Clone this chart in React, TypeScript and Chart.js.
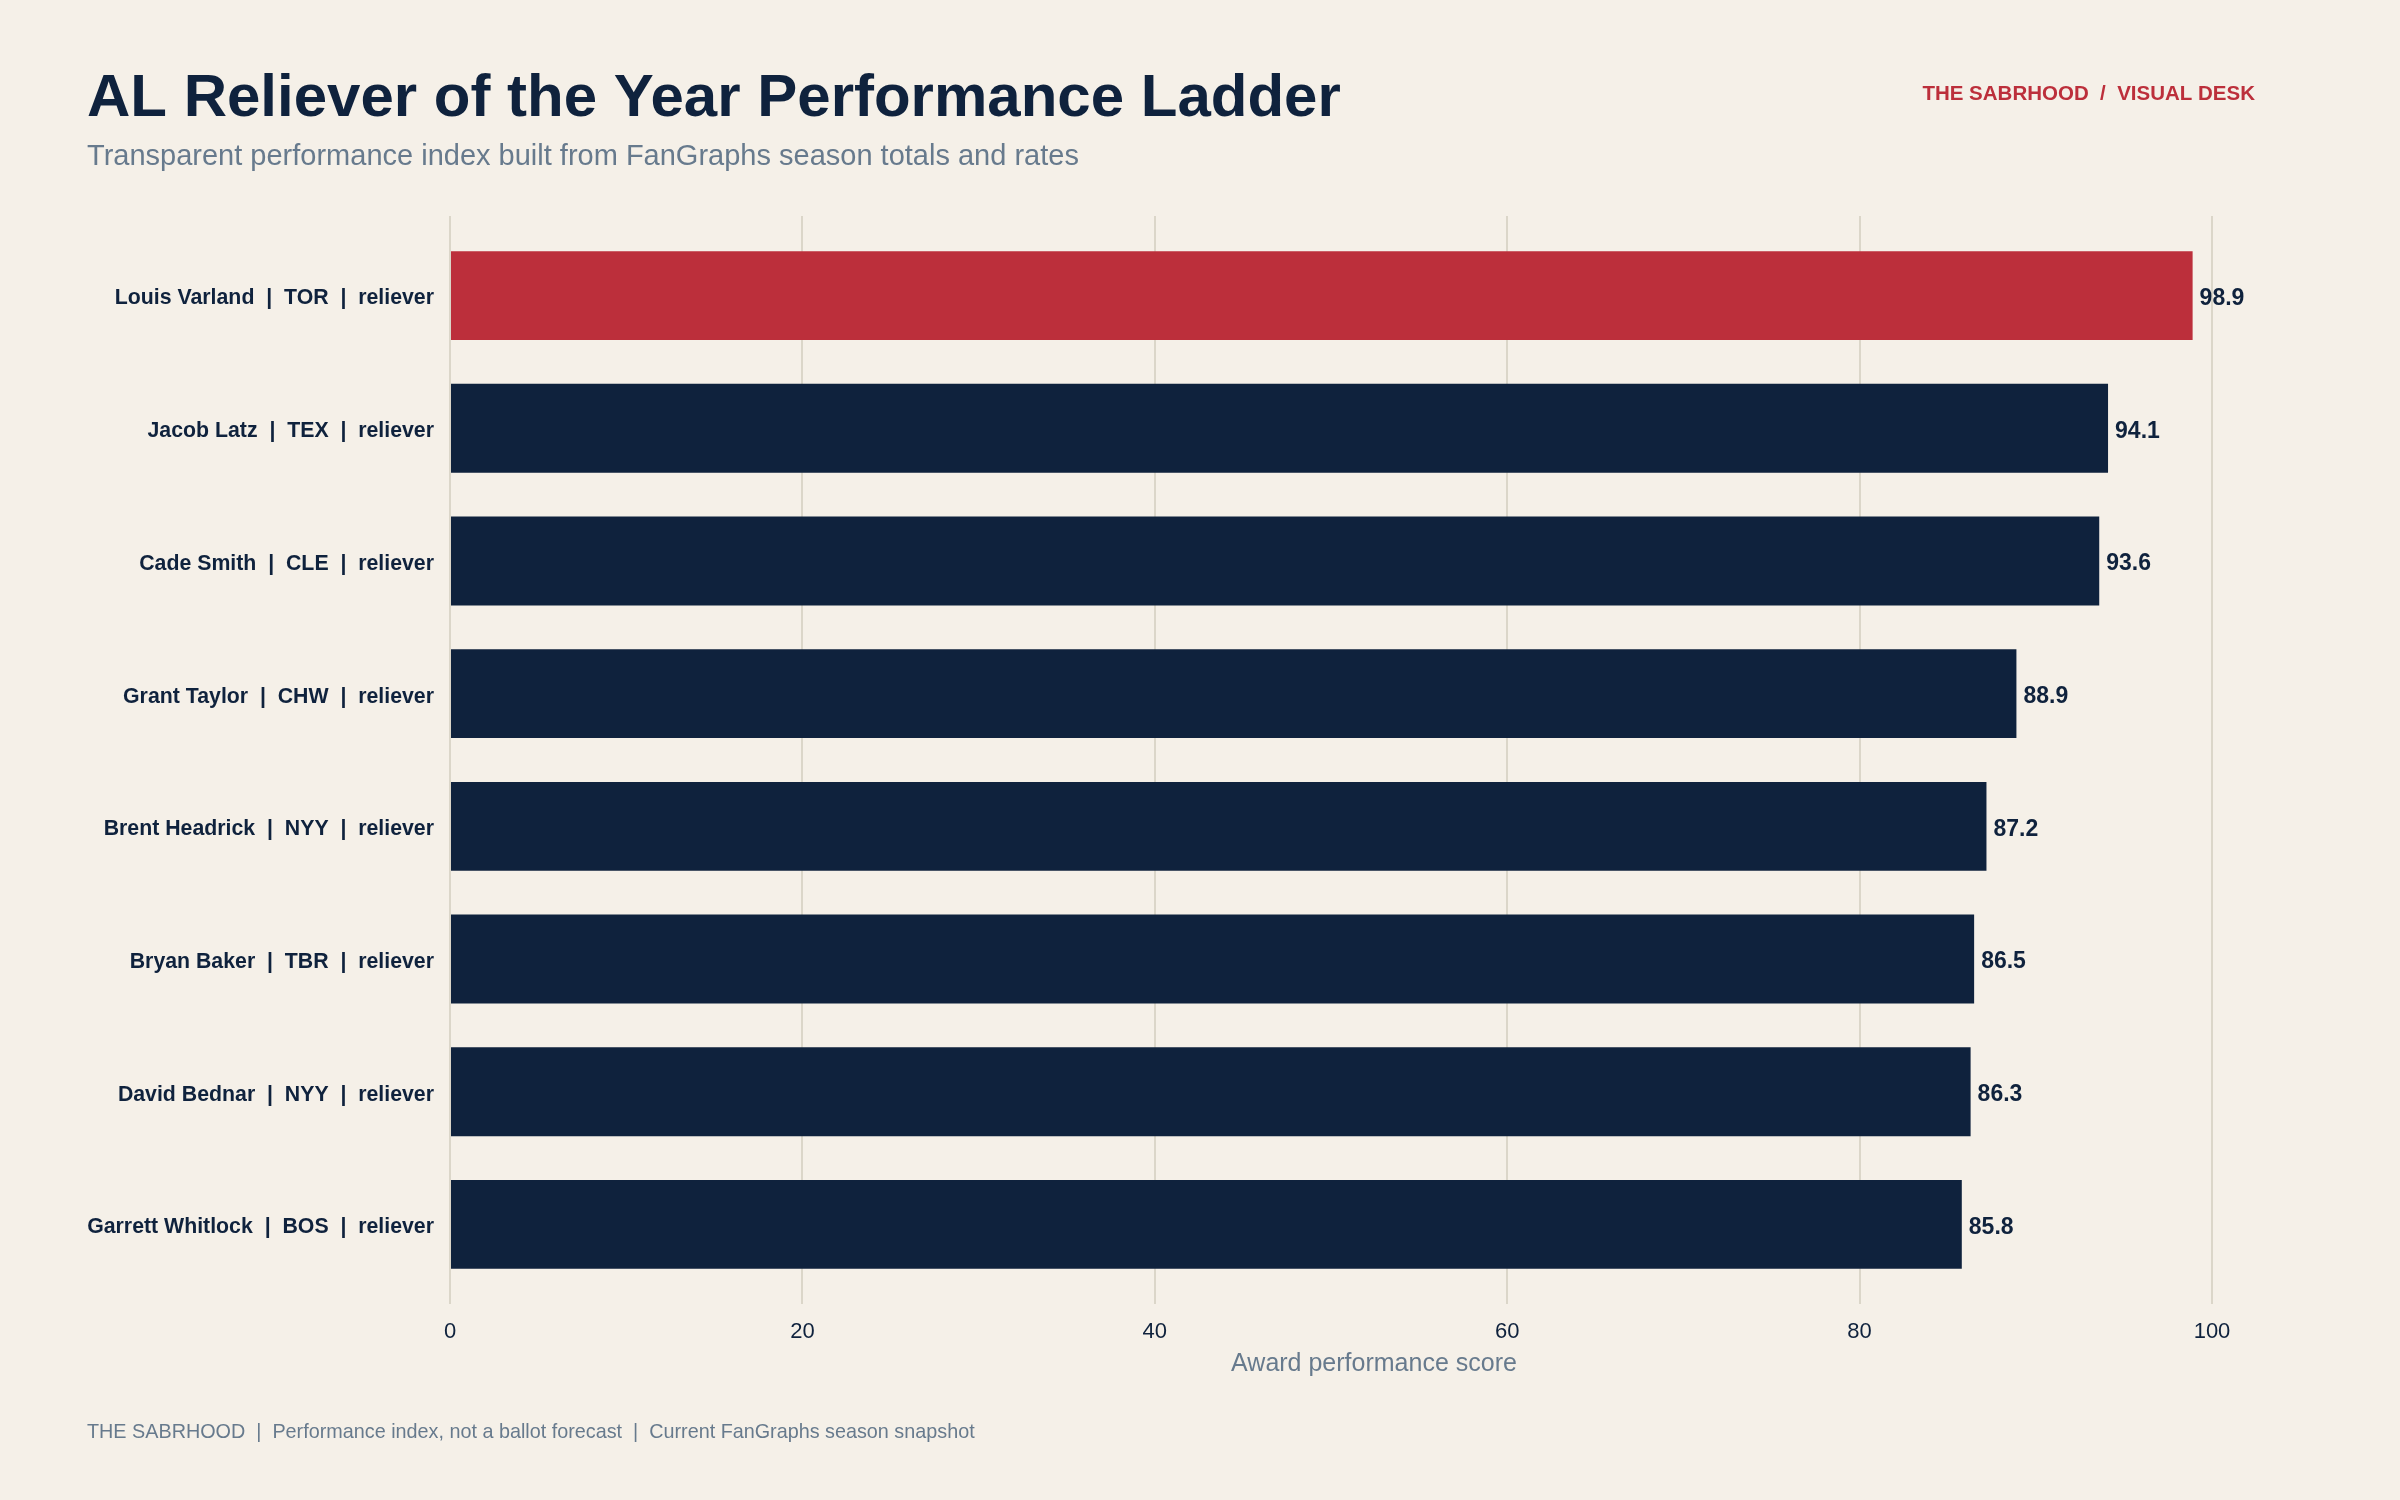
import React, { useEffect, useRef } from "react";
import { Chart, registerables } from "chart.js";

Chart.register(...registerables);

// Ladder data (top to bottom)
const players = [
  "Louis Varland  |  TOR  |  reliever",
  "Jacob Latz  |  TEX  |  reliever",
  "Cade Smith  |  CLE  |  reliever",
  "Grant Taylor  |  CHW  |  reliever",
  "Brent Headrick  |  NYY  |  reliever",
  "Bryan Baker  |  TBR  |  reliever",
  "David Bednar  |  NYY  |  reliever",
  "Garrett Whitlock  |  BOS  |  reliever",
];
const scores = [98.9, 94.1, 93.6, 88.9, 87.2, 86.5, 86.3, 85.8];
const xTicks = [0, 20, 40, 60, 80, 100];

const TITLE = "AL Reliever of the Year Performance Ladder";
const SUBTITLE = "Transparent performance index built from FanGraphs season totals and rates";
const BRAND = "THE SABRHOOD  /  VISUAL DESK";
const FOOTER =
  "THE SABRHOOD  |  Performance index, not a ballot forecast  |  Current FanGraphs season snapshot";
const X_TITLE = "Award performance score";

const BG = "#f5f0e8";
const NAVY = "#0f223d";
const RED = "#bc2f3b";
const MUTED = "#677a8d";
const GRID = "#dbd6c9";
const FONT = "'Liberation Sans', Arial, Helvetica, sans-serif";

const W = 2400;
const H = 1500;

const decorPlugin = {
  id: "decor",
  beforeDraw(chart: any) {
    const { ctx } = chart;
    ctx.save();
    ctx.fillStyle = BG;
    ctx.fillRect(0, 0, chart.width, chart.height);
    ctx.textBaseline = "alphabetic";

    ctx.fillStyle = NAVY;
    ctx.textAlign = "left";
    ctx.font = `bold 60px ${FONT}`;
    ctx.fillText(TITLE, 87, 116);

    ctx.fillStyle = MUTED;
    ctx.font = `29px ${FONT}`;
    ctx.fillText(SUBTITLE, 87, 165);

    ctx.fillStyle = RED;
    ctx.textAlign = "right";
    ctx.font = `bold 20.5px ${FONT}`;
    ctx.fillText(BRAND, 2255, 100);

    ctx.fillStyle = MUTED;
    ctx.textAlign = "left";
    ctx.font = `19.8px ${FONT}`;
    ctx.fillText(FOOTER, 87, 1438);

    // x-axis title
    ctx.textAlign = "center";
    ctx.textBaseline = "middle";
    ctx.font = `25px ${FONT}`;
    ctx.fillText(X_TITLE, 1374, 1364);
    ctx.restore();
  },
  afterDatasetsDraw(chart: any) {
    const { ctx } = chart;
    const meta = chart.getDatasetMeta(0);
    ctx.save();
    ctx.fillStyle = NAVY;
    ctx.font = `bold 23px ${FONT}`;
    ctx.textAlign = "left";
    ctx.textBaseline = "middle";
    meta.data.forEach((bar: any, i: number) => {
      ctx.fillText(scores[i].toFixed(1), bar.x + 7, bar.y + 3);
    });
    ctx.restore();
  },
};

export default function App() {
  const canvasRef = useRef<HTMLCanvasElement | null>(null);

  useEffect(() => {
    if (!canvasRef.current) return;
    Chart.defaults.font.family = FONT;
    const chart = new Chart(canvasRef.current, {
      type: "bar",
      data: {
        datasets: [
          {
            data: scores.map((v, i) => ({ x: v, y: i })),
            backgroundColor: scores.map((_, i) => (i === 0 ? RED : NAVY)),
            borderWidth: 0,
            barPercentage: 0.67,
            categoryPercentage: 1,
          },
        ],
      },
      options: {
        indexAxis: "y",
        responsive: false,
        animation: false,
        devicePixelRatio: 1,
        layout: { padding: { left: 0, right: W - 2212, top: 216, bottom: 0 } },
        plugins: {
          legend: { display: false },
          tooltip: { enabled: false },
          title: { display: false },
        },
        scales: {
          x: {
            type: "linear",
            position: "bottom",
            min: 0,
            max: 100,
            afterBuildTicks: (scale: any) => {
              scale.ticks = xTicks.map((v) => ({ value: v }));
            },
            afterFit: (scale: any) => {
              scale.height = H - 1304;
            },
            grid: { color: GRID, lineWidth: 2, drawTicks: false },
            border: { display: false },
            ticks: {
              color: NAVY,
              font: { size: 22 },
              padding: 15,
            },
            title: { display: false },
          },
          y: {
            type: "linear",
            reverse: true,
            offset: false,
            min: -0.6,
            max: 7.6,
            afterBuildTicks: (scale: any) => {
              scale.ticks = players.map((_, i) => ({ value: i }));
            },
            afterFit: (scale: any) => {
              scale.width = 450;
            },
            grid: { display: false, drawTicks: false },
            border: { display: false },
            ticks: {
              color: NAVY,
              font: { size: 21.3, weight: "bold" },
              padding: 16,
              labelOffset: 3,
              callback: (v: any) => players[Number(v)] ?? "",
            },
          },
        },
      },
      plugins: [decorPlugin],
    } as any);
    return () => chart.destroy();
  }, []);

  return (
    <div style={{ position: "absolute", left: 0, top: 0, width: W, height: H, background: BG }}>
      <canvas ref={canvasRef} width={W} height={H} style={{ display: "block" }} />
    </div>
  );
}
